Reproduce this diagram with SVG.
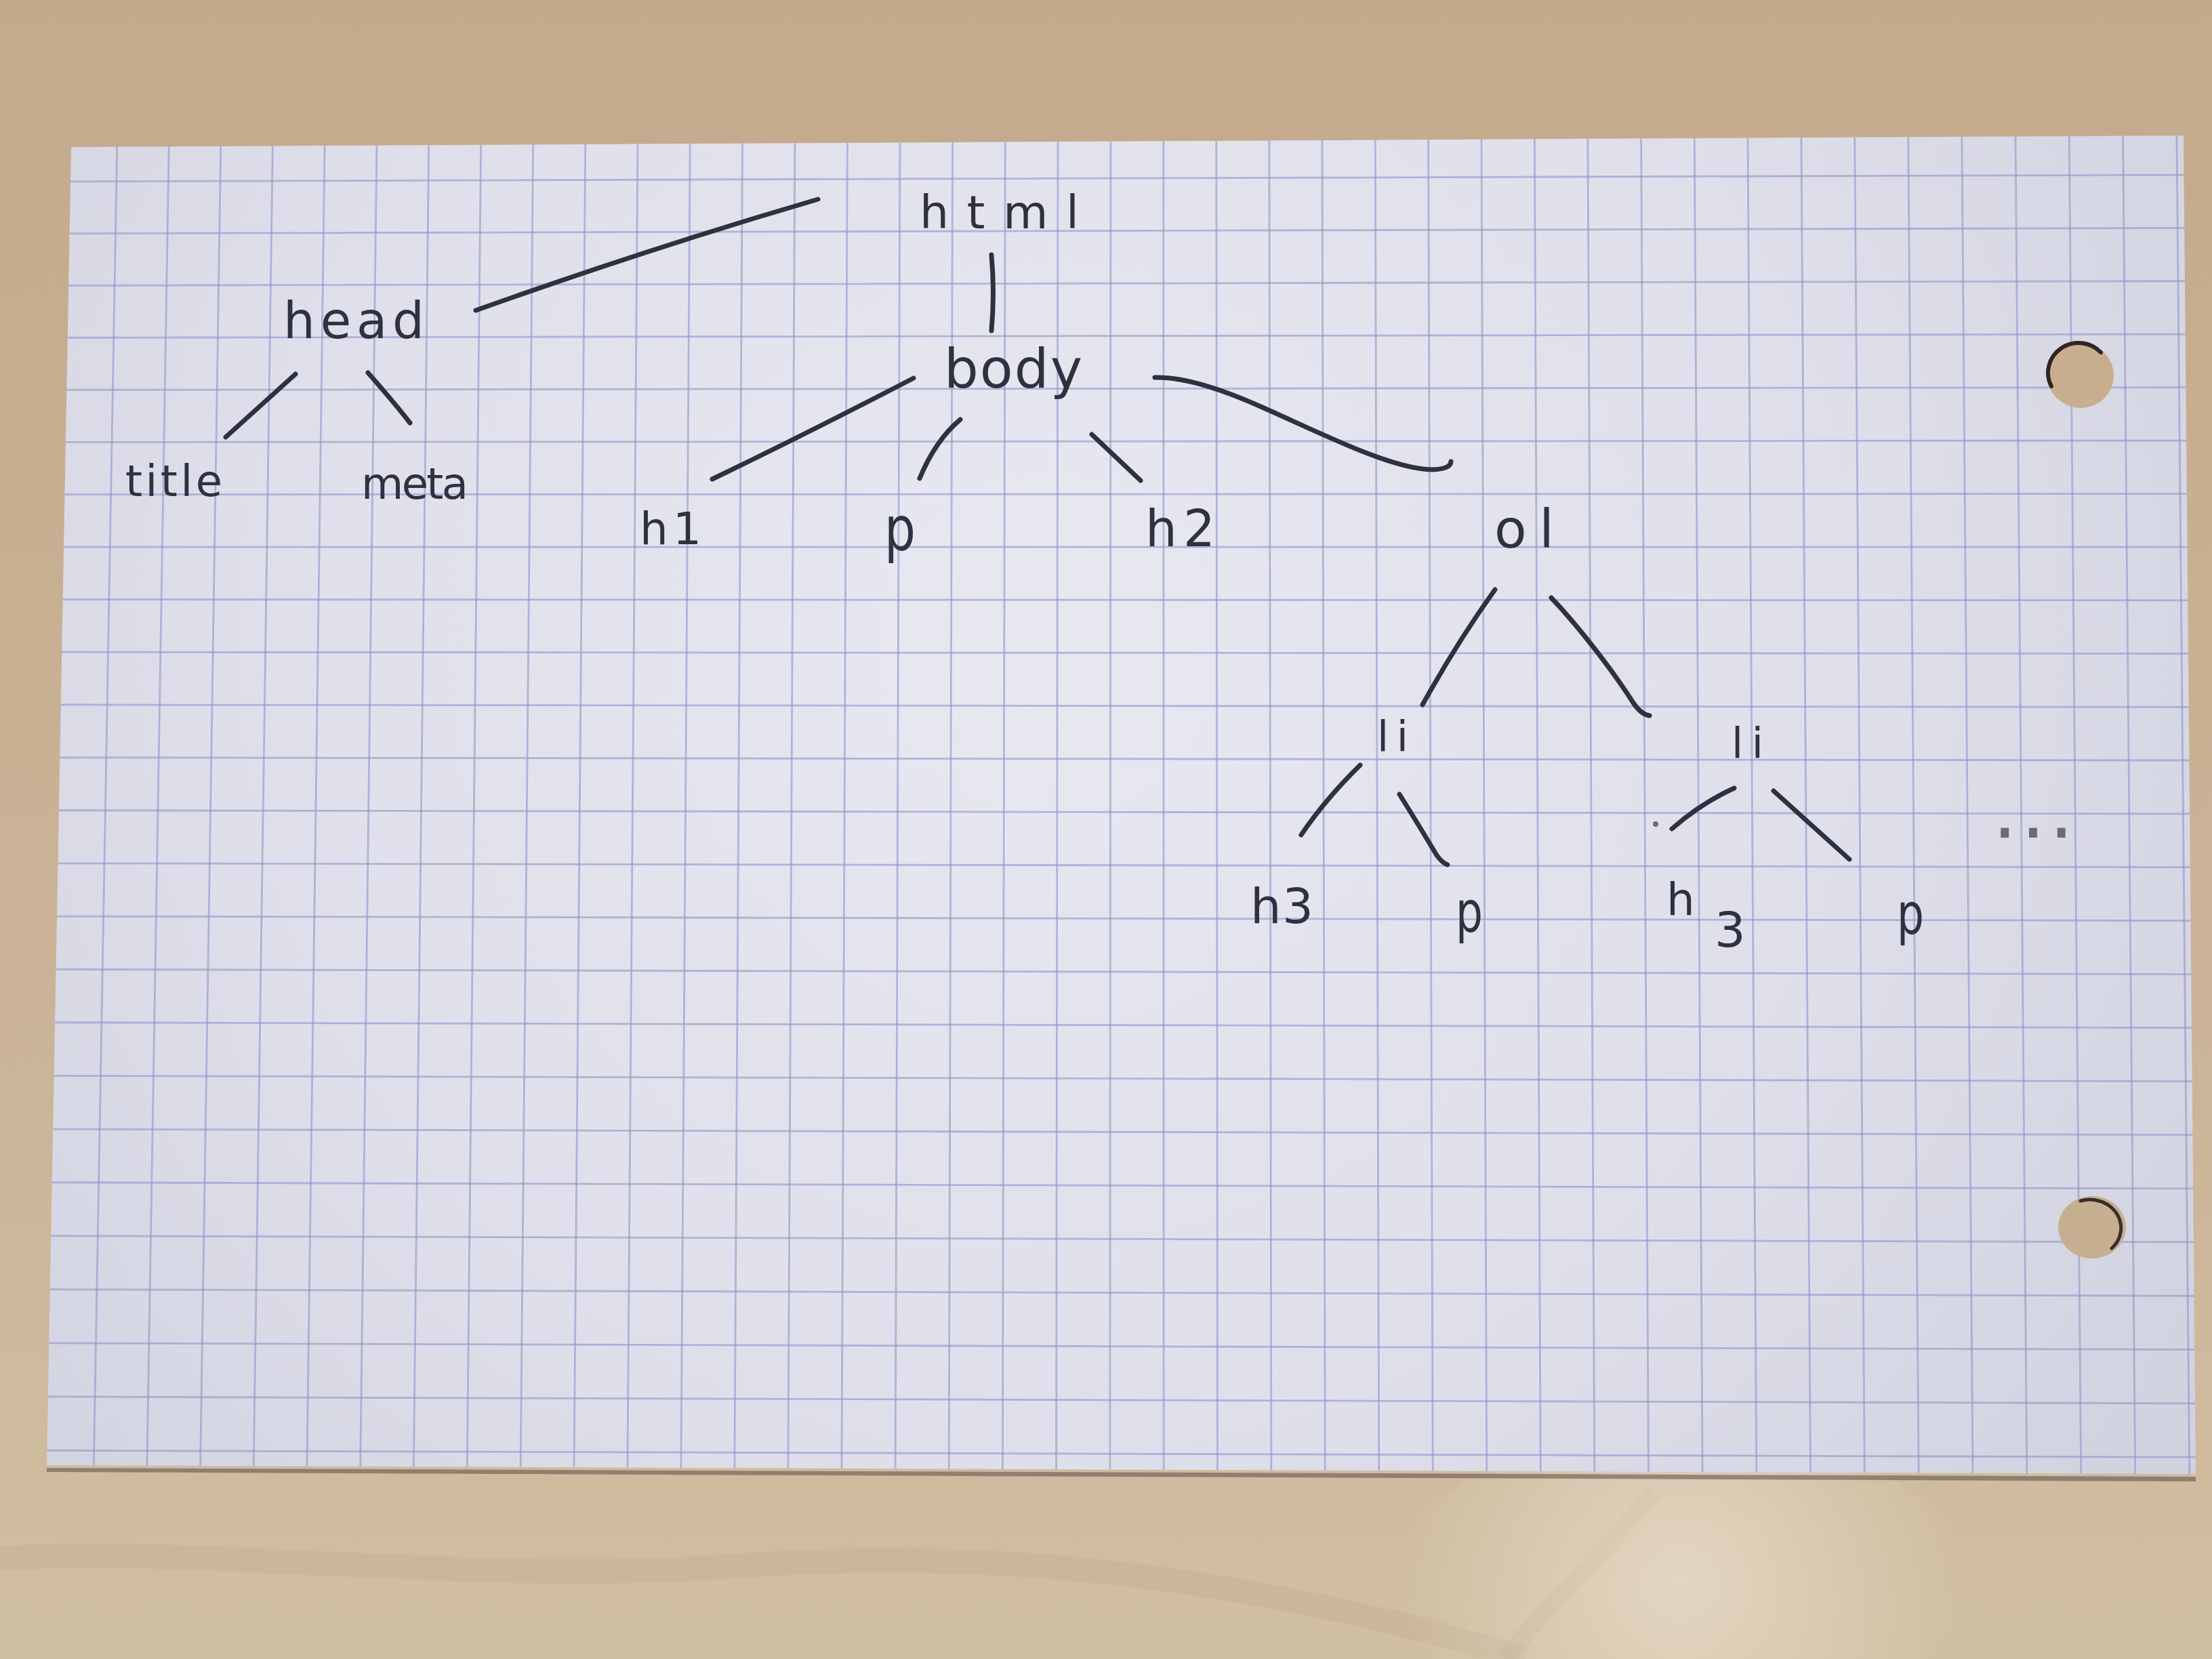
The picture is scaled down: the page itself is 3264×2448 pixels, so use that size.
<svg xmlns="http://www.w3.org/2000/svg" width="3264" height="2448" viewBox="0 0 3264 2448">
<defs>
<style>
.ink{fill:none;stroke:#2f3140;stroke-width:7;stroke-linecap:round;stroke-linejoin:round}
.lbl{font-family:"DejaVu Sans","Liberation Sans",sans-serif;fill:#2f3140}
.grid{fill:none;stroke:#9395c9;stroke-width:2.8;opacity:0.62}
</style>
<linearGradient id="wood" x1="0" y1="0" x2="0" y2="1">
<stop offset="0" stop-color="#c4aa8d"/>
<stop offset="0.6" stop-color="#cab396"/>
<stop offset="1" stop-color="#d1bfa1"/>
</linearGradient>
<radialGradient id="paperShade" gradientUnits="userSpaceOnUse" cx="1550" cy="950" r="2000">
<stop offset="0" stop-color="#e8e8f1"/>
<stop offset="0.6" stop-color="#dfdfeb"/>
<stop offset="1" stop-color="#d1d2e0"/>
</radialGradient>
<radialGradient id="glare" gradientUnits="userSpaceOnUse" cx="2480" cy="2330" r="420">
<stop offset="0" stop-color="#efe6d8" stop-opacity="0.6"/>
<stop offset="1" stop-color="#efe6d8" stop-opacity="0"/>
</radialGradient>
<clipPath id="paperClip"><polygon points="105,217 3222,200 3240,2175 69,2162"/></clipPath>
</defs>

<g id="table">
<rect x="0" y="0" width="3264" height="2448" fill="url(#wood)"/>
<path d="M0,2300 C300,2280 700,2340 1100,2310 C1500,2280 1900,2340 2250,2448" fill="none" stroke="#a88f72" stroke-width="36" opacity="0.12"/>
<path d="M2440,2200 C2380,2280 2300,2350 2220,2448" fill="none" stroke="#a88f72" stroke-width="26" opacity="0.14"/>
<ellipse cx="2480" cy="2330" rx="420" ry="220" fill="url(#glare)"/>
</g>

<g id="paper">
<polygon points="69,2166 3240,2179 3240,2186 69,2172" fill="#5d4c48" opacity="0.55"/>
<polygon points="105,217 3222,200 3240,2175 69,2162" fill="url(#paperShade)"/>
<g id="grid" clip-path="url(#paperClip)">
<path class="grid" d="M173,200L138,2180M249.5,200L216.6,2180M326,200L295.3,2180M402.6,200L374,2180M479.3,200L452.7,2180M556.1,200L531.5,2180M632.9,200L610.2,2180M709.8,200L689.1,2180M786.8,200L768,2180M863.9,200L846.9,2180M941.1,200L925.8,2180M1018.3,200L1004.8,2180M1095.6,200L1083.8,2180M1173,200L1162.8,2180M1250.4,200L1241.9,2180M1328,200L1321.1,2180M1405.6,200L1400.2,2180M1483.3,200L1479.4,2180M1561,200L1558.6,2180M1638.9,200L1637.9,2180M1716.8,200L1717.2,2180M1794.8,200L1796.5,2180M1872.9,200L1875.9,2180M1951,200L1955.3,2180M2029.3,200L2034.8,2180M2107.6,200L2114.3,2180M2186,200L2193.8,2180M2264.4,200L2273.3,2180M2342.9,200L2352.9,2180M2421.6,200L2432.5,2180M2500.3,200L2512.2,2180M2579,200L2591.9,2180M2657.9,200L2671.6,2180M2736.8,200L2751.4,2180M2815.8,200L2831.2,2180M2894.9,200L2911.1,2180M2974,200L2990.9,2180M3053.3,200L3070.8,2180M3132.6,200L3150.8,2180M3211.9,200L3230.8,2180"/>
<path class="grid" d="M60,268L3250,258M60,344.7L3250,336.3M60,421.4L3250,414.7M60,498.3L3250,493.1M60,575.3L3250,571.6M60,652.5L3250,650.1M60,729.7L3250,728.6M60,807.1L3250,807.2M60,884.6L3250,885.8M60,962.2L3250,964.5M60,1039.9L3250,1043.3M60,1117.7L3250,1122M60,1195.7L3250,1200.9M60,1273.8L3250,1279.7M60,1352L3250,1358.6M60,1430.3L3250,1437.6M60,1508.7L3250,1516.6M60,1587.3L3250,1595.6M60,1666L3250,1674.7M60,1744.7L3250,1753.9M60,1823.6L3250,1833M60,1902.6L3250,1912.3M60,1981.8L3250,1991.5M60,2060.9L3250,2070.9M60,2140.2L3250,2150.2"/>
</g>
</g>

<g id="holes">
<ellipse cx="3070" cy="554" rx="49" ry="48" fill="#c8ad8f"/>
<path d="M3027,570 A45,44 0 0 1 3100,520" fill="none" stroke="#2f2522" stroke-width="6" stroke-linecap="round"/>
<ellipse cx="3087" cy="1811" rx="50" ry="46" fill="#c6ae90"/>
<path d="M3070,1772 A46,42 0 0 1 3116,1842" fill="none" stroke="#3a2d2a" stroke-width="5" stroke-linecap="round"/>
</g>

<g id="connectors">
<path class="ink" d="M702,458 Q954,368 1207,294"/>
<path class="ink" d="M1463,376 Q1468,432 1463,488"/>
<path class="ink" d="M1348,558 Q1190,640 1051,707"/>
<path class="ink" d="M1417,619 Q1380,650 1357,706"/>
<path class="ink" d="M1611,641 L1683,709"/>
<path class="ink" d="M1704,557 C1740,556 1790,568 1865,602 C1950,640 2040,685 2100,692 C2125,695 2141,690 2141,681"/>
<path class="ink" d="M436,552 L333,645"/>
<path class="ink" d="M543,550 Q585,598 605,624"/>
<path class="ink" d="M2206,870 Q2150,948 2099,1040"/>
<path class="ink" d="M2289,882 C2330,925 2380,990 2410,1037 C2418,1049 2427,1055 2434,1056"/>
<path class="ink" d="M2007,1129 Q1955,1180 1920,1232"/>
<path class="ink" d="M2065,1172 Q2095,1220 2120,1262 Q2128,1273 2136,1276"/>
<path class="ink" d="M2559,1163 Q2510,1185 2467,1223"/>
<circle cx="2443" cy="1216" r="4" fill="#6a6b78"/>
<path class="ink" d="M2617,1167 L2729,1268"/>
</g>

<g id="node-html"><text class="lbl" x="1357" y="337" font-size="68" textLength="235" lengthAdjust="spacing">html</text></g>
<g id="node-head"><text class="lbl" x="418" y="499" font-size="74" textLength="208" lengthAdjust="spacing">head</text></g>
<g id="node-title"><text class="lbl" x="185" y="732" font-size="64" textLength="143" lengthAdjust="spacing">title</text></g>
<g id="node-meta"><text class="lbl" x="533" y="736" font-size="64" textLength="158" lengthAdjust="spacing">meta</text></g>
<g id="node-body"><text class="lbl" x="1393" y="572" font-size="80" textLength="204" lengthAdjust="spacing">body</text></g>
<g id="node-h1"><text class="lbl" x="944" y="803" font-size="66" textLength="91" lengthAdjust="spacing">h1</text></g>
<g id="node-p1"><text class="lbl" x="1305" y="812" font-size="90" textLength="46" lengthAdjust="spacingAndGlyphs">p</text></g>
<g id="node-h2"><text class="lbl" x="1690" y="806" font-size="74" textLength="103" lengthAdjust="spacing">h2</text></g>
<g id="node-ol"><text class="lbl" x="2205" y="808" font-size="78" textLength="88" lengthAdjust="spacing">ol</text></g>
<g id="node-li1"><text class="lbl" x="2032" y="1108" font-size="62" textLength="46" lengthAdjust="spacing">li</text></g>
<g id="node-li2"><text class="lbl" x="2555" y="1118" font-size="62" textLength="47" lengthAdjust="spacing">li</text></g>
<g id="node-h3a"><text class="lbl" x="1845" y="1362" font-size="72" textLength="93" lengthAdjust="spacing">h3</text></g>
<g id="node-p2"><text class="lbl" x="2148" y="1375" font-size="84" textLength="40" lengthAdjust="spacingAndGlyphs">p</text></g>
<g id="node-h3b"><text class="lbl" x="2459" y="1350" font-size="66">h<tspan x="2530" y="1397" font-size="72">3</tspan></text></g>
<g id="node-p3"><text class="lbl" x="2799" y="1378" font-size="84" textLength="40" lengthAdjust="spacingAndGlyphs">p</text></g>
<g id="node-more"><text class="lbl" x="2940" y="1236" font-size="115" style="fill:#6a6b78" textLength="120" lengthAdjust="spacing">...</text></g>
</svg>
